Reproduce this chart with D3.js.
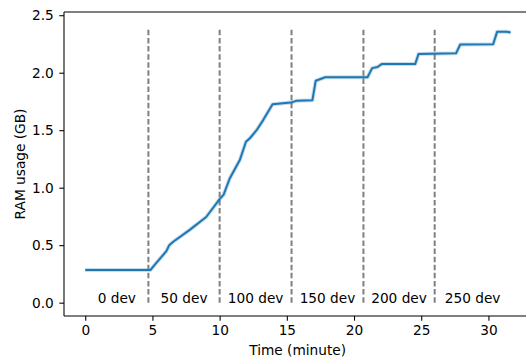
<!DOCTYPE html>
<html>
<head>
<meta charset="utf-8">
<script src="https://cdn.jsdelivr.net/npm/d3@7"></script>
<style>
  body { margin: 0; background: #fff; }
  svg { font-family: "DejaVu Sans", sans-serif; }
</style>
</head>
<body>
<div id="chart"></div>
<script>
// RAM usage over time
var timeMin = [0, 4.85, 5.18, 6.05, 6.25, 6.55, 7.8, 9.0, 10.0, 10.3, 10.75, 11.5, 11.76, 11.96, 12.25, 12.75, 13.25, 13.94,
    15.3, 15.75, 16.9, 17.15, 17.45, 17.85, 21.0, 21.35, 21.75, 22.05, 24.55, 24.8, 27.6, 27.9, 30.35, 30.65, 31.35, 31.65];
var ramGB = [0.284, 0.284, 0.33, 0.45, 0.50, 0.53, 0.635, 0.745, 0.90, 0.94, 1.08, 1.24, 1.33, 1.40, 1.43, 1.50, 1.59, 1.725,
    1.74, 1.757, 1.76, 1.93, 1.943, 1.96, 1.96, 2.04, 2.05, 2.075, 2.075, 2.163, 2.17, 2.245, 2.247, 2.357, 2.357, 2.35];

// phase boundaries (dashed lines) and phase names
var phaseBounds = [4.7, 10.0, 15.35, 20.7, 26.0];
var phaseLabels = ["0 dev", "50 dev", "100 dev", "150 dev", "200 dev", "250 dev"];
var vlineTop = 2.39;

var xTicks = [0, 5, 10, 15, 20, 25, 30];
var yTicks = [0.0, 0.5, 1.0, 1.5, 2.0, 2.5];

var fontSize = "13.7px";

// set the dimensions and margins of the graph
var margin = { top: 12, left: 64 },
    width = 467.3,
    height = 304;

var svg = d3.select("#chart")
    .append("svg")
    .attr("width", 526)
    .attr("height", 360)
    .append("g")
    .attr("transform", "translate(" + margin.left + "," + margin.top + ")");

var x = d3.scaleLinear().domain([-1.58, 33.19]).range([0, width]);
var y = d3.scaleLinear().domain([-0.116, 2.528]).range([height, 0]);

// axes
var xAxis = svg.append("g")
    .attr("transform", "translate(0," + height + ")")
    .call(d3.axisBottom(x).tickValues(xTicks).tickSize(4.7).tickPadding(5).tickFormat(d3.format("d")));
var yAxis = svg.append("g")
    .call(d3.axisLeft(y).tickValues(yTicks).tickSize(4.7).tickPadding(5.5).tickFormat(d3.format(".1f")));

[xAxis, yAxis].forEach(function (a) {
    a.select(".domain").remove();
    a.selectAll(".tick line").attr("stroke", "#000").attr("stroke-width", 1.07);
    a.selectAll(".tick text").attr("fill", "#000").style("font-size", fontSize).style("font-family", "DejaVu Sans");
});

// spines
svg.append("line").attr("x1", 0).attr("x2", 0).attr("y1", 0).attr("y2", height)
    .attr("stroke", "#000").attr("stroke-width", 1.07);
svg.append("line").attr("x1", 0).attr("x2", width).attr("y1", 0).attr("y2", 0)
    .attr("stroke", "#000").attr("stroke-width", 1.07);
svg.append("line").attr("x1", 0).attr("x2", width).attr("y1", height).attr("y2", height)
    .attr("stroke", "#000").attr("stroke-width", 1.07);

// axis labels
svg.append("text")
    .attr("text-anchor", "middle")
    .attr("x", width / 2)
    .attr("y", 343)
    .style("font-size", fontSize)
    .text("Time (minute)");
svg.append("text")
    .attr("text-anchor", "middle")
    .attr("transform", "translate(" + (-39.5) + "," + (height / 2) + ") rotate(-90)")
    .style("font-size", fontSize)
    .text("RAM usage (GB)");

// dashed phase lines
svg.selectAll("vlines")
    .data(phaseBounds)
    .enter()
    .append("line")
    .attr("x1", function (d) { return x(d); })
    .attr("x2", function (d) { return x(d); })
    .attr("y1", y(0))
    .attr("y2", y(vlineTop))
    .attr("stroke", "#808080")
    .attr("stroke-width", 2)
    .attr("stroke-dasharray", "5.5,2.6");

// phase labels centred between boundaries
var edges = [0].concat(phaseBounds).concat([d3.max(timeMin)]);
svg.selectAll("plabels")
    .data(phaseLabels)
    .enter()
    .append("text")
    .attr("text-anchor", "middle")
    .attr("x", function (d, i) { return x((edges[i] + edges[i + 1]) / 2); })
    .attr("y", y(0))
    .style("font-size", fontSize)
    .text(function (d) { return d; });

// RAM line
var data = timeMin.map(function (t, i) { return { t: t, v: ramGB[i] }; });
var line = d3.line()
    .x(function (d) { return x(d.t); })
    .y(function (d) { return y(d.v); });

svg.append("path")
    .datum(data)
    .attr("fill", "none")
    .attr("stroke", "#1f77b4")
    .attr("stroke-opacity", 0.25)
    .attr("stroke-width", 4)
    .attr("stroke-linejoin", "round")
    .attr("d", line);
svg.append("path")
    .datum(data)
    .attr("fill", "none")
    .attr("stroke", "#1f77b4")
    .attr("stroke-width", 2)
    .attr("stroke-linejoin", "round")
    .attr("d", line);
</script>
</body>
</html>
